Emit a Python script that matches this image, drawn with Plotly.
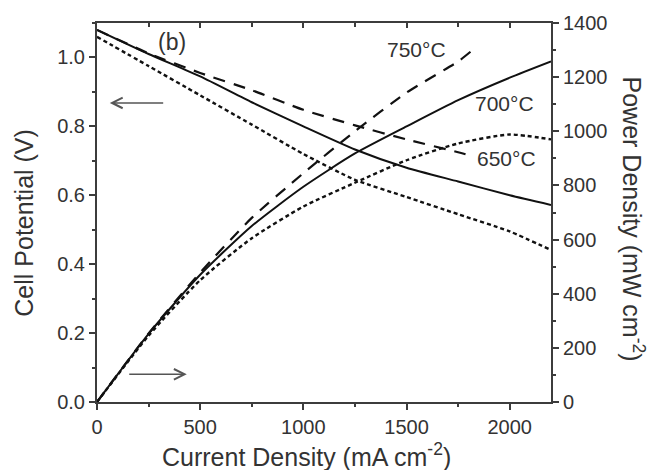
import plotly.graph_objects as go

# ---- data ----
current = [0, 250, 500, 750, 1000, 1250, 1500, 1750, 2000, 2200]
current_750 = [0, 250, 500, 750, 1000, 1250, 1500, 1750, 1810]

v650 = [1.06, 0.975, 0.89, 0.805, 0.72, 0.645, 0.595, 0.545, 0.495, 0.441]
v700 = [1.08, 1.01, 0.945, 0.87, 0.80, 0.733, 0.68, 0.64, 0.60, 0.572]
v750 = [1.08, 1.012, 0.955, 0.905, 0.848, 0.803, 0.762, 0.725, 0.715]

p650 = [0, 245, 450, 605, 722, 810, 893, 955, 988, 970]
p700 = [0, 252, 470, 650, 795, 918, 1018, 1115, 1198, 1258]
p750 = [0, 253, 478, 680, 845, 1000, 1143, 1258, 1294]

x_ticks = [0, 500, 1000, 1500, 2000]
v_ticks = [0.0, 0.2, 0.4, 0.6, 0.8, 1.0]
p_ticks = [0, 200, 400, 600, 800, 1000, 1200, 1400]

FONT = "Liberation Sans, Arial, sans-serif"
TXT = "#333333"
AX = "#3c3c3c"
LINE = "#111111"

fig = go.Figure()

def add(x, y, dash, width, yaxis):
    fig.add_trace(go.Scatter(x=x, y=y, mode="lines", yaxis=yaxis, xaxis="x",
                             line=dict(color=LINE, width=width, dash=dash,
                                       shape="spline", smoothing=0.6),
                             showlegend=False, hoverinfo="skip"))

add(current, v650, "4px,3px", 2.4, "y")
add(current, v700, "solid", 2.0, "y")
add(current_750, v750, "12px,9px", 2.2, "y")
add(current, p650, "4px,3px", 2.4, "y2")
add(current, p700, "solid", 2.0, "y2")
add(current_750, p750, "12px,9px", 2.2, "y2")
# dummy trace for the top mirrored axis
fig.add_trace(go.Scatter(x=[None], y=[None], xaxis="x2", yaxis="y",
                         showlegend=False, hoverinfo="skip"))

tickfont = dict(family=FONT, size=20, color=TXT)

fig.update_layout(
    width=652, height=470,
    margin=dict(l=97, r=101, t=23, b=68),
    paper_bgcolor="white", plot_bgcolor="white",
    font=dict(family=FONT, color=TXT),
    xaxis=dict(range=[0, 2200], tickvals=x_ticks, ticks="outside", ticklen=6,
               tickwidth=1.5, tickcolor=AX, showline=True, linecolor=AX,
               linewidth=2, showgrid=False, zeroline=False, tickfont=tickfont,
               minor=dict(dtick=250, ticks="outside", ticklen=3, tickcolor=AX)),
    xaxis2=dict(range=[0, 2200], overlaying="x", side="top", anchor="y",
                tickvals=x_ticks, ticks="inside", ticklen=5, tickwidth=1.5,
                tickcolor=AX, showticklabels=False, showline=True,
                linecolor=AX, linewidth=2, showgrid=False, zeroline=False,
                minor=dict(dtick=250, ticks="inside", ticklen=4, tickcolor=AX)),
    yaxis=dict(range=[0, 1.1], tickvals=v_ticks, tickformat=".1f",
               ticks="outside", ticklen=6, tickwidth=1.5, tickcolor=AX,
               showline=True, linecolor=AX, linewidth=2, showgrid=False,
               zeroline=False, tickfont=tickfont,
               minor=dict(dtick=0.1, ticks="outside", ticklen=3, tickcolor=AX)),
    yaxis2=dict(range=[0, 1400], tickvals=p_ticks, overlaying="y", side="right",
                anchor="x", ticks="outside", ticklen=6, tickwidth=1.5,
                tickcolor=AX, showline=True, linecolor=AX, linewidth=2,
                showgrid=False, zeroline=False, tickfont=tickfont,
                minor=dict(dtick=100, ticks="outside", ticklen=3, tickcolor=AX)),
)

ann_font = dict(family=FONT, size=21, color=TXT)
title_font = dict(family=FONT, size=25, color=TXT)

def label(text, x, y, size=21):
    return dict(text=text, x=x, y=y, xref="x", yref="y", showarrow=False,
                xanchor="center", yanchor="middle",
                font=dict(family=FONT, size=size, color=TXT))

annotations = [
    label("(b)", 362, 1.046, 23),
    label("750°C", 1546, 1.022),
    label("700°C", 1973, 0.865),
    label("650°C", 1985, 0.708),
    # arrows
    dict(x=62, y=0.868, ax=328, ay=0.868, xref="x", yref="y", axref="x", ayref="y",
         text="", showarrow=True, arrowhead=5, arrowsize=1.3, arrowwidth=1.6,
         arrowcolor="#555555"),
    dict(x=435, y=0.0805, ax=149, ay=0.0805, xref="x", yref="y", axref="x", ayref="y",
         text="", showarrow=True, arrowhead=5, arrowsize=1.3, arrowwidth=1.6,
         arrowcolor="#555555"),
    # axis titles
    dict(text="Cell Potential (V)", x=-0.1595, y=0.472, xref="paper", yref="paper",
         xanchor="center", yanchor="middle",
         showarrow=False, textangle=-90, font=title_font),
    dict(text="Power Density (mW cm<sup>-2</sup>)", x=1.1815, y=0.483, xref="paper",
         yref="paper", xanchor="center", yanchor="middle",
         showarrow=False, textangle=90, font=title_font),
    dict(text="Current Density (mA cm<sup>-2</sup>)", x=0.4625, y=-0.141, xref="paper",
         yref="paper", xanchor="center", yanchor="middle",
         showarrow=False, font=title_font),
]
fig.update_layout(annotations=annotations)

fig.write_html("out.html")
